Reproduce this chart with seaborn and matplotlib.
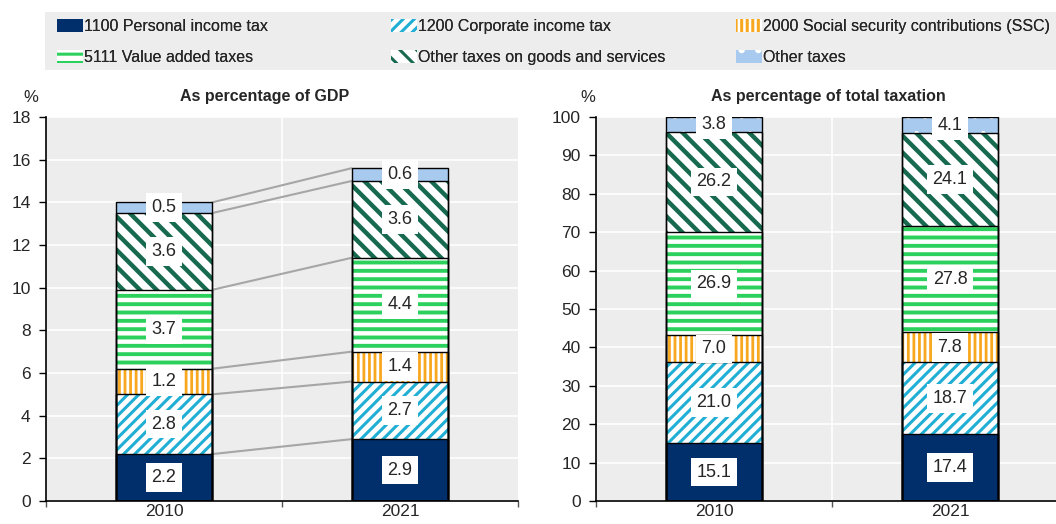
import numpy as np
import pandas as pd
import matplotlib.pyplot as plt
import matplotlib.patches as mpatches
import seaborn as sns

# data
years = ["2010", "2021"]
categories = ["1100 Personal income tax", "1200 Corporate income tax",
              "2000 Social security contributions (SSC)", "5111 Value added taxes",
              "Other taxes on goods and services", "Other taxes"]
gdp_2010 = [2.2, 2.8, 1.2, 3.7, 3.6, 0.5]
gdp_2021 = [2.9, 2.7, 1.4, 4.4, 3.6, 0.6]
share_2010 = [15.1, 21.0, 7.0, 26.9, 26.2, 3.8]
share_2021 = [17.4, 18.7, 7.8, 27.8, 24.1, 4.1]

# face colour, hatch colour, hatch, hatch width
styles = [
    ("#002F6C", "#002F6C", None, 0),
    ("white", "#20AED4", "///", 2.2),
    ("white", "#F8A81E", "|||", 2.0),
    ("white", "#2BD15C", "--", 2.8),
    ("white", "#17694F", "\\\\", 3.2),
    ("#A8CAEE", "white", ".", 1.0),
]

sns.set_theme(style="white")
plt.rcParams["font.family"] = ["Liberation Sans", "DejaVu Sans"]
plt.rcParams["hatch.linewidth"] = 2.2

bg = "#EDEDED"
W = 0.41

fig = plt.figure(figsize=(10.56, 5.24), dpi=100)
ax1 = fig.add_axes([46 / 1056, 23 / 524, 472 / 1056, 384 / 524])
ax2 = fig.add_axes([596 / 1056, 23 / 524, 472 / 1056, 384 / 524])


def set_hlw(p, w):
    if w and hasattr(p, "set_hatch_linewidth"):
        p.set_hatch_linewidth(w)


def draw_panel(ax, v2010, v2021, ymax, step, lines):
    ax.set_facecolor(bg)
    cum = np.cumsum(np.array([v2010, v2021]), axis=1)
    # series lines between segment tops
    if lines:
        for i in range(len(categories)):
            ax.plot([W / 2, 1 - W / 2], [cum[0, i], cum[1, i]],
                    color="#A6A6A6", lw=1.5, zorder=1.5)
    # cumulative bars, largest first
    for i in reversed(range(len(categories))):
        face, hcol, hatch, hlw = styles[i]
        d = pd.DataFrame({"year": years, "top": cum[:, i]})
        n0 = len(ax.patches)
        sns.barplot(data=d, x="year", y="top", order=years, width=W,
                    color=face, saturation=1, errorbar=None, ax=ax,
                    edgecolor=hcol, linewidth=0, hatch=hatch, zorder=2)
        for p in ax.patches[n0:]:
            p.set_facecolor(face)
            set_hlw(p, hlw)
    # outlines
    for i in reversed(range(len(categories))):
        d = pd.DataFrame({"year": years, "top": cum[:, i]})
        sns.barplot(data=d, x="year", y="top", order=years, width=W,
                    fill=False, errorbar=None, ax=ax,
                    edgecolor="black", linewidth=1, zorder=3)
    # value labels
    for j, vals in enumerate([v2010, v2021]):
        base = 0
        for v in vals:
            ax.text(j, base + v / 2, f"{v:.1f}", ha="center", va="center",
                    fontsize=13, zorder=5,
                    bbox=dict(boxstyle="square,pad=0.32", fc="white", ec="none"))
            base += v

    ax.set_xlim(-0.5, 1.5)
    ax.set_ylim(0, ymax)
    ax.set_yticks(np.arange(0, ymax + 0.1, step))
    ax.yaxis.grid(True, color="white", lw=1.2)
    ax.axvline(0.5, color="white", lw=1.2, zorder=0.5)
    ax.set_axisbelow(True)
    ax.set_xlabel("")
    ax.set_ylabel("")
    for s in ["top", "right"]:
        ax.spines[s].set_visible(False)
    for s in ["left", "bottom"]:
        ax.spines[s].set_visible(True)
        ax.spines[s].set_color("black")
        ax.spines[s].set_linewidth(1.2)
    ax.tick_params(axis="y", left=True, direction="out", length=5, width=1,
                   color="black", labelsize=12.5, pad=6)
    ax.tick_params(axis="x", which="major", bottom=False, length=0,
                   labelsize=12.5, pad=2)
    ax.set_xticks([-0.5, 0.5, 1.5], minor=True)
    ax.tick_params(axis="x", which="minor", bottom=True, direction="out",
                   length=4, width=1, color="#555555")


draw_panel(ax1, gdp_2010, gdp_2021, 18, 2, True)
draw_panel(ax2, share_2010, share_2021, 100, 10, False)

fig.text(265 / 1056, 1 - 97 / 524, "As percentage of GDP", ha="center",
         va="center", fontsize=11.5, fontweight="bold")
fig.text(828 / 1056, 1 - 97 / 524, "As percentage of total taxation",
         ha="center", va="center", fontsize=11.5, fontweight="bold")
fig.text(31 / 1056, 1 - 97 / 524, "%", ha="center", va="center", fontsize=12)
fig.text(588 / 1056, 1 - 97 / 524, "%", ha="center", va="center", fontsize=12)

# legend
fig.patches.append(mpatches.Rectangle((45 / 1056, 1 - 70 / 524), 1, 58 / 524,
                                      transform=fig.transFigure,
                                      facecolor=bg, edgecolor="none", zorder=0))
handles = []
for (face, hcol, hatch, hlw), lab in zip(styles, categories):
    h = mpatches.Patch(facecolor=face, edgecolor=hcol, hatch=hatch,
                       linewidth=0, label=lab)
    set_hlw(h, hlw)
    handles.append(h)
col_x = [57, 391, 736]
for c in range(3):
    hs = [handles[c], handles[c + 3]]
    leg = fig.legend(handles=hs, loc="upper left",
                     bbox_to_anchor=(col_x[c] / 1056, 1 - 19 / 524),
                     frameon=False, fontsize=11.5, handlelength=1.6,
                     handleheight=0.85, handletextpad=0.1, labelspacing=1.0,
                     borderpad=0, borderaxespad=0)
    fig.add_artist(leg)

fig.savefig("out.png", dpi=100)
